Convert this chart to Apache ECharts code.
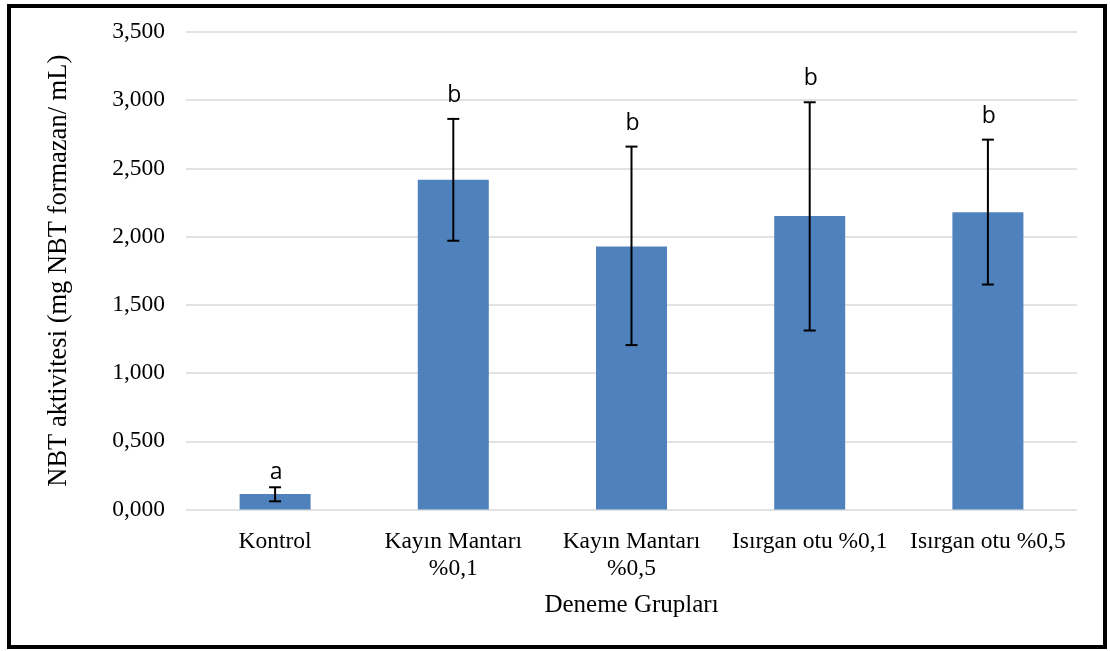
<!DOCTYPE html>
<html>
<head>
<meta charset="utf-8">
<script src="https://cdn.jsdelivr.net/npm/echarts@6/dist/echarts.min.js"></script>
<style>
html,body{margin:0;padding:0;background:#fff;}
#frame{position:absolute;left:7px;top:4px;width:1092px;height:637px;border:4px solid #000;box-sizing:content-box;}
#chart{position:absolute;left:0;top:0;width:1110px;height:651px;}
</style>
</head>
<body>
<div id="frame"></div>
<div id="chart"></div>
<script>
const categories = ['Kontrol', 'Kayın Mantarı\n%0,1', 'Kayın Mantarı\n%0,5', 'Isırgan otu %0,1', 'Isırgan otu %0,5'];
const means = [0.113, 2.417, 1.928, 2.151, 2.178];
const errLow = [0.060, 1.970, 1.205, 1.312, 1.649];
const errHigh = [0.163, 2.863, 2.660, 2.985, 2.711];
const letters = ['a', 'b', 'b', 'b', 'b'];
const yTicks = [0, 0.5, 1.0, 1.5, 2.0, 2.5, 3.0, 3.5];

const chart = echarts.init(document.getElementById('chart'));
const serif = '"Liberation Serif", "DejaVu Serif", serif';

const errData = categories.map((c, i) => [i, errLow[i], errHigh[i]]);

chart.setOption({
  backgroundColor: 'transparent',
  animation: false,
  grid: { left: 186, right: 33, top: 32, bottom: 141.5 },
  xAxis: {
    type: 'category',
    data: categories,
    name: 'Deneme Grupları',
    nameLocation: 'middle',
    nameGap: 83,
    nameTextStyle: { fontFamily: serif, fontSize: 25, color: '#000' },
    axisLine: { show: false },
    axisTick: { show: false },
    axisLabel: { fontFamily: serif, fontSize: 23.5, color: '#000', margin: 19, lineHeight: 27, interval: 0 }
  },
  yAxis: {
    type: 'value',
    min: yTicks[0],
    max: yTicks[yTicks.length - 1],
    interval: 0.5,
    name: 'NBT aktivitesi (mg NBT formazan/ mL)',
    nameLocation: 'middle',
    nameGap: 113,
    nameTextStyle: { fontFamily: serif, fontSize: 26.5, color: '#000' },
    axisLine: { show: false },
    axisTick: { show: false },
    splitLine: { lineStyle: { color: '#d9d9d9', width: 1.5 } },
    axisLabel: {
      fontFamily: serif, fontSize: 23.5, color: '#000', margin: 21,
      formatter: v => v.toFixed(3).replace('.', ',')
    }
  },
  series: [
    {
      type: 'bar',
      data: means,
      barWidth: 71,
      itemStyle: { color: '#4f81bd' },
      z: 2
    },
    {
      type: 'custom',
      data: errData,
      z: 5,
      renderItem: function (params, api) {
        const x = api.value(0);
        const lo = api.coord([x, api.value(1)]);
        const hi = api.coord([x, api.value(2)]);
        const cap = 6;
        const style = { stroke: '#000', lineWidth: 2 };
        const letter = letters[params.dataIndex];
        const gap = letter === 'a' ? 3 : 12;
        return {
          type: 'group',
          children: [
            { type: 'line', shape: { x1: hi[0], y1: hi[1], x2: lo[0], y2: lo[1] }, style: style },
            { type: 'line', shape: { x1: hi[0] - cap, y1: hi[1], x2: hi[0] + cap, y2: hi[1] }, style: style },
            { type: 'line', shape: { x1: lo[0] - cap, y1: lo[1], x2: lo[0] + cap, y2: lo[1] }, style: style },
            {
              type: 'text',
              style: {
                text: letter,
                x: hi[0] + 1,
                y: hi[1] - gap,
                textAlign: 'center',
                textVerticalAlign: 'bottom',
                fontFamily: '"Open Sans", "Liberation Sans", sans-serif',
                fontSize: 23,
                fill: '#000'
              }
            }
          ]
        };
      }
    }
  ]
});
</script>
</body>
</html>
